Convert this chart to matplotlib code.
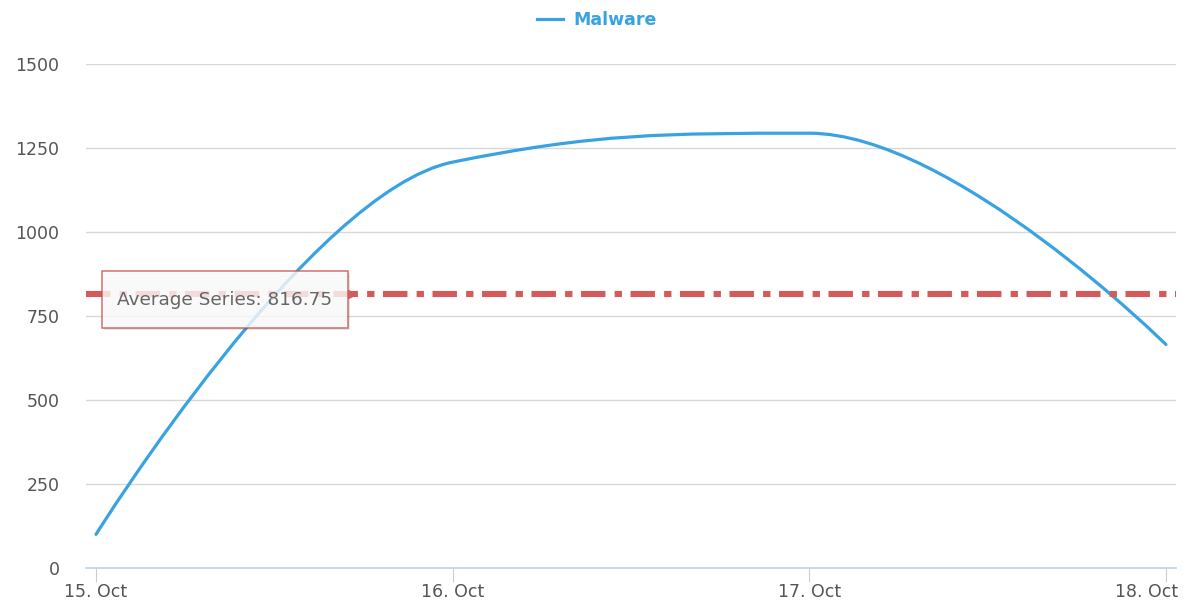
import numpy as np
import matplotlib.pyplot as plt
from matplotlib.path import Path
from matplotlib.patches import PathPatch, Rectangle
from matplotlib.transforms import ScaledTranslation

days = ["15. Oct", "16. Oct", "17. Oct", "18. Oct"]
malware = [100, 1208, 1294, 665]
average = 816.75
y_ticks = [0, 250, 500, 750, 1000, 1250, 1500]

blue = "#38a3e0"
red = "#d45b5b"


def spline_path(xs, ys, smoothing=1.5):
    # highcharts-like spline: cubic bezier per segment
    n = len(xs)
    left = [(xs[i], ys[i]) for i in range(n)]
    right = [(xs[i], ys[i]) for i in range(n)]
    denom = smoothing + 1
    for i in range(1, n - 1):
        px, py = xs[i], ys[i]
        lx, ly = xs[i - 1], ys[i - 1]
        nx, ny = xs[i + 1], ys[i + 1]
        lcx = (smoothing * px + lx) / denom
        lcy = (smoothing * py + ly) / denom
        rcx = (smoothing * px + nx) / denom
        rcy = (smoothing * py + ny) / denom
        corr = (rcy - lcy) * (rcx - px) / (rcx - lcx) + py - rcy
        lcy += corr
        rcy += corr
        if lcy > ly and lcy > py:
            lcy = max(ly, py)
            rcy = 2 * py - lcy
        elif lcy < ly and lcy < py:
            lcy = min(ly, py)
            rcy = 2 * py - lcy
        if rcy > ny and rcy > py:
            rcy = max(ny, py)
            lcy = 2 * py - rcy
        elif rcy < ny and rcy < py:
            rcy = min(ny, py)
            lcy = 2 * py - rcy
        left[i] = (lcx, lcy)
        right[i] = (rcx, rcy)
    verts = [(xs[0], ys[0])]
    codes = [Path.MOVETO]
    for i in range(1, n):
        verts += [right[i - 1], left[i], (xs[i], ys[i])]
        codes += [Path.CURVE4] * 3
    return Path(verts, codes)


fig = plt.figure(figsize=(11.91, 6.03), dpi=100)
ax = fig.add_axes([86 / 1191, 35 / 603, 1090 / 1191, 504 / 603])

x = np.arange(len(days))
ax.set_xlim(-10 / 357, 3 + 10 / 357)
ax.set_ylim(0, 1500)

for v in y_ticks[1:]:
    ax.axhline(v, color="#d8d8d8", lw=1, zorder=1)

ax.add_patch(PathPatch(spline_path(list(x), malware), fc="none", ec=blue,
                       lw=2.3, zorder=3, capstyle="round"))
ax.plot([], [], color=blue, lw=2.3, label="Malware")

ax.axhline(average, color=red, lw=4.4, zorder=4, solid_capstyle="butt",
           dash_capstyle="butt", linestyle=(0, (4, 1.5, 1.2, 1.4)))

# label box for the average line
ax.add_patch(Rectangle((18 / 1090, 238 / 504), 246 / 1090, 57 / 504,
                       transform=ax.transAxes, fc="#000000", alpha=0.1,
                       ec="none", zorder=5))
ax.add_patch(Rectangle((16 / 1090, 240 / 504), 246 / 1090, 57 / 504,
                       transform=ax.transAxes, fc="white", alpha=0.8,
                       ec="#c94a4a", lw=1.1, zorder=6))
ax.text(31 / 1090, 268 / 504, "Average Series: 816.75", transform=ax.transAxes,
        va="center", ha="left", fontsize=13.3, color="#666666", zorder=7)
ax.plot([266 / 1090], [average], marker=">", ms=6, color=red, mec=red,
        transform=ax.get_yaxis_transform(), zorder=7, clip_on=False)

ax.set_xticks(x)
ax.set_xticklabels(days)
ax.set_yticks(y_ticks)
ax.tick_params(axis="x", length=10, color="#c0d0e0", colors="#555555",
               labelsize=12.5, pad=1)
ax.tick_params(axis="y", length=0, colors="#555555", labelsize=12.5, pad=19)
for lab in ax.get_xticklabels():
    lab.set_color("#555555")
last = ax.get_xticklabels()[-1]
last.set_transform(last.get_transform() +
                   ScaledTranslation(-0.19, 0, fig.dpi_scale_trans))

for s in ["top", "right", "left"]:
    ax.spines[s].set_visible(False)
ax.spines["bottom"].set_color("#c0d0e0")
ax.spines["bottom"].set_linewidth(1.2)
ax.spines["bottom"].set_zorder(2)

leg = fig.legend(loc="center", bbox_to_anchor=(597 / 1191, 1 - 20 / 603),
                 frameon=False, handlelength=1.5, handletextpad=0.6,
                 prop={"weight": "bold", "size": 12.5})
for t in leg.get_texts():
    t.set_color(blue)

fig.savefig("out.png", dpi=100)
